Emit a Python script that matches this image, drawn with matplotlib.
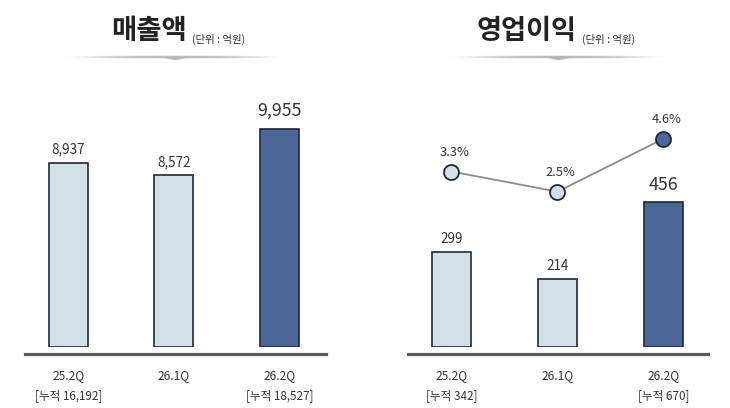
import numpy as np
import matplotlib
matplotlib.use("Agg")
import matplotlib.pyplot as plt

plt.rcParams['font.family'] = ['Noto Sans CJK KR', 'DejaVu Sans']

# ---- data ----
categories = ["25.2Q", "26.1Q", "26.2Q"]
sales = [8937, 8572, 9955]
op_profit = [299, 214, 456]
op_margin = [3.3, 2.5, 4.6]
sales_cum = ["[누적 16,192]", "", "[누적 18,527]"]
op_cum = ["[누적 342]", "", "[누적 670]"]
titles = ["매출액", "영업이익"]
unit = "(단위 : 억원)"

# ---- style ----
LIGHT = "#d3dfe7"
DARK = "#4a6797"
EDGE = "#1b2940"
TXT = "#333333"
W, H = 730, 408
fig = plt.figure(figsize=(W / 100, H / 100), dpi=100)
fig.patch.set_facecolor("white")


def fx(px):
    return px / W


def fy(py):
    return 1 - py / H


ax_bottom_px, ax_top_px = 347, 100
axL = fig.add_axes([fx(25), fy(ax_bottom_px), fx(301), (ax_bottom_px - ax_top_px) / H])
axR = fig.add_axes([fx(408), fy(ax_bottom_px), fx(300), (ax_bottom_px - ax_top_px) / H])

colors = [LIGHT, LIGHT, DARK]
x = np.arange(len(categories))


def style_axis(ax):
    for s in ["top", "left", "right"]:
        ax.spines[s].set_visible(False)
    ax.spines["bottom"].set_position(("outward", 4.7))
    ax.spines["bottom"].set_color("#595959")
    ax.spines["bottom"].set_linewidth(2.3)
    ax.set_yticks([])
    ax.set_xticks([])
    ax.patch.set_alpha(0)


# Left: sales
baseL = 3428
axL.set_xlim(-0.41, 2.44)
axL.set_ylim(baseL, 10823)
axL.bar(x, np.array(sales) - baseL, bottom=baseL, width=0.37, color=colors,
        edgecolor=EDGE, linewidth=1.2)
style_axis(axL)
for i, v in enumerate(sales):
    big = i == 2
    axL.annotate(f"{v:,}", (x[i], v), xytext=(0, 13 if big else 9.5),
                 textcoords="offset points", ha="center", va="center",
                 fontsize=12.8 if big else 9.7, color=TXT)

# Right: operating profit
axR.set_xlim(-0.41, 2.42)
axR.set_ylim(0, 775)
axR.bar(x, op_profit, width=0.37, color=colors, edgecolor=EDGE, linewidth=1.2)
style_axis(axR)
for i, v in enumerate(op_profit):
    big = i == 2
    axR.annotate(f"{v:,}", (x[i], v), xytext=(0, 12 if big else 9.2),
                 textcoords="offset points", ha="center", va="center",
                 fontsize=12.8 if big else 9.7, color=TXT)

ax2 = axR.twinx()
ax2.set_ylim(-3.664, 6.138)
ax2.axis("off")
ax2.plot(x, op_margin, color="#8c8c8c", linewidth=1.3, zorder=2)
for i, v in enumerate(op_margin):
    ax2.plot(x[i], v, marker="o", markersize=10.8, markerfacecolor=colors[i],
             markeredgecolor=EDGE, markeredgewidth=1.3, zorder=3, linestyle="none")
    ax2.annotate(f"{v}%", (x[i], v), xytext=(2, 14), textcoords="offset points",
                 ha="center", va="center", fontsize=9.3, color=TXT)

# category labels
for ax, cums in [(axL, sales_cum), (axR, op_cum)]:
    for i, c in enumerate(categories):
        ax.annotate(c, (x[i], 0), xycoords=("data", "axes fraction"),
                    xytext=(0, -20.5), textcoords="offset points",
                    ha="center", va="center", fontsize=8.6, color=TXT)
        if cums[i]:
            ax.annotate(cums[i], (x[i], 0), xycoords=("data", "axes fraction"),
                        xytext=(0, -35), textcoords="offset points",
                        ha="center", va="center", fontsize=8.4, color=TXT)

# titles
fig.text(fx(111), fy(31), titles[0], fontsize=19.8, fontweight="bold",
         color="#222222", ha="left", va="center")
fig.text(fx(192), fy(39.5), unit, fontsize=7.5, color="#2a2a2a", ha="left", va="center")
fig.text(fx(477), fy(31), titles[1], fontsize=19.6, fontweight="bold",
         color="#222222", ha="left", va="center")
fig.text(fx(582), fy(39.5), unit, fontsize=7.5, color="#2a2a2a", ha="left", va="center")

# decorative underline under titles
ov = fig.add_axes([0, 0, 1, 1], zorder=-1)
ov.set_xlim(0, W)
ov.set_ylim(H, 0)
ov.axis("off")


def underline(x0, x1, yc):
    n_x, n_y = 600, 60
    xs = np.linspace(-1, 1, n_x)
    ys = np.linspace(-5, 5, n_y)
    X, Y = np.meshgrid(xs, ys)
    half = 1.5 * np.sqrt(np.clip(1 - X ** 2, 0, 1))
    bottom = half + 2.0 * np.clip(1 - np.abs(X) * 10, 0, 1)
    inside = np.where(Y < 0, np.clip(half - (-Y), 0, 1.0), np.clip(bottom - Y, 0, 1.0))
    inside = np.clip(inside * 1.5, 0, 1)
    fade = np.clip(1 - np.abs(X) ** 2.2, 0, 1)
    alpha = inside * fade
    img = np.zeros((n_y, n_x, 4))
    img[..., :3] = 0.66
    img[..., 3] = alpha * 0.85
    ov.imshow(img, extent=(x0, x1, yc + 5, yc - 5), interpolation="bilinear",
              aspect="auto")


underline(62, 288, 57.5)
underline(446, 671, 57.5)
ov.set_xlim(0, W)
ov.set_ylim(H, 0)

fig.savefig("out.png", dpi=100, facecolor="white")
